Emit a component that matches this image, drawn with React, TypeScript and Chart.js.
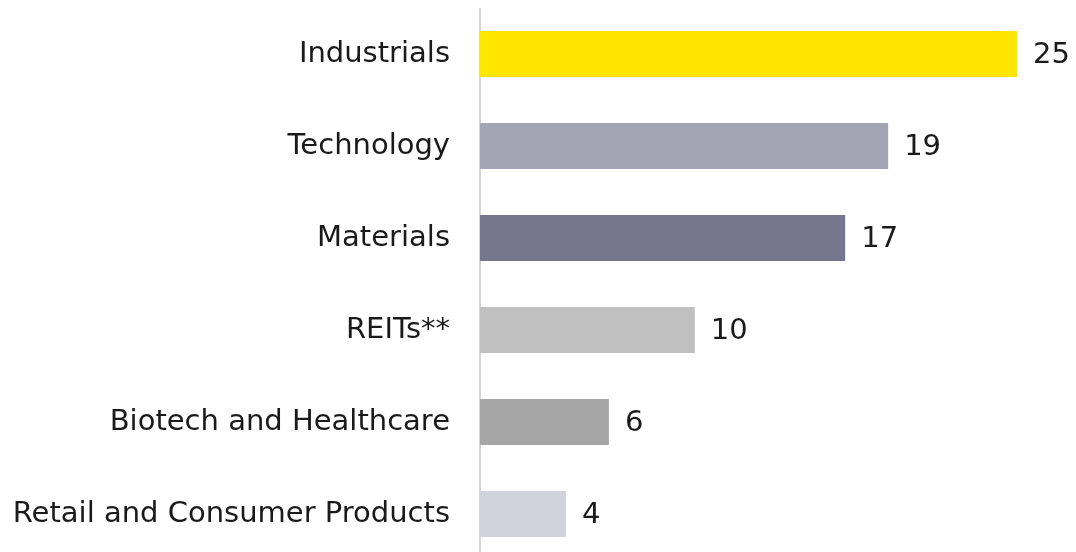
import React, { useEffect, useRef } from "react";
import { Chart, registerables } from "chart.js";

Chart.register(...registerables);

const categories = [
  "Industrials",
  "Technology",
  "Materials",
  "REITs**",
  "Biotech and Healthcare",
  "Retail and Consumer Products",
];
const values = [25, 19, 17, 10, 6, 4];
const barColors = ["#FFE600", "#A5A4B4", "#77768F", "#C0C0C0", "#A6A6A6", "#D2D2DC"];

const FONT = "'DejaVu Sans', sans-serif";
const FONT_SIZE = 29;

const valueLabels = {
  id: "valueLabels",
  afterDatasetsDraw(chart: any) {
    const ctx = chart.ctx;
    const meta = chart.getDatasetMeta(0);
    ctx.save();
    ctx.font = `400 ${FONT_SIZE}px ${FONT}`;
    ctx.fillStyle = "#1a1a1a";
    ctx.textAlign = "left";
    ctx.textBaseline = "middle";
    meta.data.forEach((bar: any, i: number) => {
      ctx.fillText(String(values[i]), bar.x + 16, bar.y + 1);
    });
    ctx.restore();
  },
};

export default function App() {
  const ref = useRef<HTMLCanvasElement>(null);
  useEffect(() => {
    if (!ref.current) return;
    const chart = new Chart(ref.current, {
      type: "bar",
      data: {
        labels: categories,
        datasets: [
          {
            data: values,
            backgroundColor: barColors,
            borderWidth: 0,
            categoryPercentage: 1,
            barPercentage: 0.5,
          },
        ],
      },
      options: {
        indexAxis: "y",
        animation: false,
        responsive: false,
        maintainAspectRatio: false,
        layout: { padding: { left: 0, right: 16, top: 0, bottom: 0 } },
        plugins: { legend: { display: false }, tooltip: { enabled: false } },
        scales: {
          x: {
            display: false,
            min: 0,
            max: 27,
          },
          y: {
            grid: { display: false, drawTicks: false },
            border: { display: true, color: "#d4d4d4", width: 2 },
            ticks: {
              color: "#1a1a1a",
              padding: 30,
              font: { family: FONT, size: FONT_SIZE, weight: "400" },
            },
            afterFit: (scale: any) => {
              scale.width = 472;
              scale.paddingTop = 0;
              scale.paddingBottom = 0;
            },
          },
        },
      },
      plugins: [valueLabels],
    });
    return () => chart.destroy();
  }, []);
  return (
    <div style={{ width: 1068, height: 552 }}>
      <canvas ref={ref} width={1068} height={552} style={{ display: "block" }} />
    </div>
  );
}
